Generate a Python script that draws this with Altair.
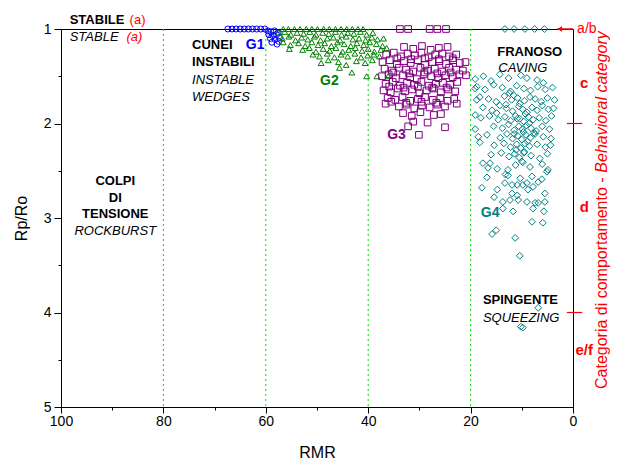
import altair as alt
import pandas as pd

FONT = "Liberation Sans"

# ---------------- data ----------------
g1_rmr = [67.4, 66.6, 65.8, 65.0, 64.2, 63.4, 62.6, 61.8, 61.0, 60.2, 59.6, 59.0,
          58.3, 57.6, 59.4, 58.6, 57.9, 57.3, 59.1, 58.2, 57.5, 58.8, 57.8]
g1_rp = [1.0, 1.0, 1.0, 1.0, 1.0, 1.0, 1.0, 1.0, 1.0, 1.0, 1.02, 1.03,
         1.02, 1.04, 1.06, 1.07, 1.06, 1.09, 1.10, 1.11, 1.13, 1.14, 1.16]

g2_rmr = [56.6, 55.6, 54.4, 53.3, 52.1, 51.0, 49.9, 48.7, 47.6, 46.4, 45.3, 44.2, 43.1, 42.0, 41.0,
          57.5, 56.3, 55.1, 53.9, 52.6, 51.4, 50.2, 48.9, 47.7, 46.4, 45.2, 44.0, 42.8, 41.5, 40.3, 39.1,
          56.8, 55.5, 54.2, 53.0, 51.8, 50.5, 49.3, 48.0, 46.8, 45.5, 44.3, 43.0, 41.8, 40.5, 39.3, 38.2, 37.0,
          56.6, 55.2, 53.6, 52.3, 51.0, 49.8, 48.5, 47.2, 46.0, 44.7, 43.4, 42.2, 40.9, 39.7, 38.4, 37.2,
          55.4, 52.8, 51.5, 50.2, 48.8, 47.5, 46.3, 45.0, 43.8, 42.5, 41.2, 40.0, 38.8, 37.5, 36.4,
          50.8, 49.5, 48.0, 46.6, 45.3, 44.0, 42.6, 41.4, 40.1, 38.9, 37.8,
          49.2, 47.8, 45.8, 44.3, 42.3, 40.6, 39.2,
          45.6, 43.2, 40.3, 38.3, 36.1]
g2_rp = [1.0] * 15 + \
        [1.04, 1.03, 1.06, 1.04, 1.05, 1.03, 1.06, 1.04, 1.05, 1.03, 1.06, 1.04, 1.05, 1.03, 1.06, 1.04] + \
        [1.10, 1.08, 1.12, 1.09, 1.11, 1.08, 1.12, 1.10, 1.09, 1.12, 1.08, 1.11, 1.10, 1.12, 1.09, 1.11, 1.10] + \
        [1.14, 1.17, 1.15, 1.18, 1.14, 1.17, 1.15, 1.18, 1.14, 1.16, 1.18, 1.15, 1.17, 1.14, 1.16, 1.18] + \
        [1.21, 1.22, 1.20, 1.24, 1.21, 1.23, 1.20, 1.24, 1.22, 1.20, 1.23, 1.21, 1.24, 1.22, 1.20] + \
        [1.27, 1.29, 1.26, 1.30, 1.27, 1.29, 1.26, 1.30, 1.28, 1.27, 1.29] + \
        [1.36, 1.33, 1.35, 1.38, 1.34, 1.36, 1.33] + \
        [1.41, 1.46, 1.50, 1.50, 1.50]

g3_rmr = [33.8, 32.2, 28.0, 26.5, 24.8,
          33.0, 31.2, 29.5, 27.8, 26.2, 24.5,
          36.5, 35.0, 33.6, 32.3, 30.9, 29.6, 28.2, 26.9, 25.5, 24.2, 22.8,
          34.3, 31.6, 28.9, 26.2, 23.5,
          37.2, 35.8, 34.4, 33.0, 31.7, 30.3, 28.9, 27.5, 26.1, 24.8, 23.4, 22.1, 21.0,
          36.8, 35.4, 34.0, 32.6, 31.2, 29.8, 28.4, 27.0, 25.6, 24.2, 22.8, 21.5,
          35.1, 32.0, 29.0, 26.5, 23.9,
          37.3, 36.0, 34.6, 33.2, 31.8, 30.5, 29.1, 27.7, 26.3, 24.9, 23.5, 22.2, 20.9,
          36.6, 35.2, 33.8, 32.4, 31.0, 29.6, 28.2, 26.8, 25.4, 24.0, 22.6,
          35.9, 33.1, 30.3, 27.5, 24.7,
          37.0, 35.6, 34.2, 32.8, 31.4, 30.0, 28.6, 27.2, 25.8, 24.4, 23.0,
          36.2, 34.7, 33.3, 31.8, 30.3, 28.9, 27.4, 25.9, 24.5, 23.2,
          35.5, 32.6, 29.6, 26.7,
          36.6, 34.0, 32.5, 31.0, 29.5, 28.0, 26.5, 25.0, 22.7,
          33.2, 31.5, 29.8, 27.2, 25.8,
          32.2, 31.2, 30.1, 28.4, 25.0]
g3_rp = [1.0] * 5 + \
        [1.19, 1.21, 1.18, 1.22, 1.20, 1.19] + \
        [1.27, 1.25, 1.29, 1.26, 1.28, 1.25, 1.30, 1.27, 1.26, 1.29, 1.27] + \
        [1.31, 1.32, 1.31, 1.32, 1.31] + \
        [1.35, 1.33, 1.37, 1.34, 1.36, 1.33, 1.38, 1.35, 1.34, 1.37, 1.33, 1.36, 1.35] + \
        [1.42, 1.44, 1.41, 1.43, 1.45, 1.41, 1.44, 1.42, 1.45, 1.41, 1.43, 1.44] + \
        [1.46, 1.47, 1.46, 1.47, 1.46] + \
        [1.50, 1.48, 1.52, 1.49, 1.51, 1.53, 1.48, 1.50, 1.52, 1.49, 1.51, 1.48, 1.49] + \
        [1.58, 1.56, 1.60, 1.57, 1.59, 1.56, 1.60, 1.58, 1.57, 1.59, 1.56] + \
        [1.61, 1.62, 1.61, 1.62, 1.62] + \
        [1.65, 1.67, 1.63, 1.66, 1.64, 1.68, 1.65, 1.63, 1.67, 1.64, 1.66] + \
        [1.73, 1.75, 1.72, 1.76, 1.74, 1.72, 1.75, 1.73, 1.76, 1.74] + \
        [1.77, 1.78, 1.77, 1.78] + \
        [1.79, 1.82, 1.80, 1.84, 1.81, 1.83, 1.80, 1.82, 1.79] + \
        [1.89, 1.92, 1.88, 1.91, 1.90] + \
        [2.03, 1.98, 2.12, 1.99, 2.04]

g4_rmr = [13.3, 11.5, 9.4, 7.5, 5.6,
          19.1, 17.5, 16.0, 14.3, 12.6, 10.2, 9.0, 7.0, 5.8,
          19.1, 18.8, 17.2, 15.5, 13.8, 12.2, 11.0, 9.6, 8.3, 6.9, 5.4, 4.0,
          18.8, 18.2, 16.5, 15.0, 13.4, 12.0, 10.8, 9.5, 8.4, 7.4, 6.2, 5.0, 3.6,
          17.6, 15.8, 14.3, 13.0, 11.8, 10.6, 9.8, 9.0, 8.0, 7.0, 6.0, 4.8, 3.8,
          19.1, 18.0, 16.3, 14.6, 13.3, 12.2, 11.2, 10.4, 9.6, 8.7, 7.8, 6.6, 5.3, 4.2,
          19.1, 15.5, 13.8, 12.6, 11.5, 10.6, 9.9, 9.1, 8.2, 7.2, 6.0, 4.6,
          18.5, 16.8, 14.2, 12.9, 11.8, 10.8, 10.0, 9.2, 8.3, 7.4, 5.8, 4.3,
          18.2, 15.4, 13.5, 12.2, 11.0, 10.2, 9.4, 8.5, 7.0, 5.4, 4.4,
          16.0, 14.0, 12.5, 11.4, 10.5, 9.6, 8.2, 6.5, 5.0,
          17.6, 16.2, 16.6, 14.8, 12.7, 11.2, 9.8, 8.4, 6.0, 5.1, 4.9,
          16.8, 13.2, 12.7, 10.3, 8.0, 6.1,
          17.8, 14.8, 13.3, 11.9, 10.9, 9.8, 9.0, 8.8, 7.8, 6.8,
          15.4, 11.9, 10.9, 10.7, 12.3, 13.7, 9.0, 6.8, 5.5, 5.5, 7.4,
          13.7, 11.7, 7.8, 5.7, 8.0, 5.9,
          15.8, 15.0, 11.3, 10.4,
          6.8, 10.2, 9.8,
          11.6, 10.4, 9.3, 8.6, 7.6,
          10.9, 9.7, 8.9, 11.1, 10.0,
          12.4, 13.1, 14.9, 11.5, 9.5]
g4_rp = [1.0] * 5 + \
        [1.53, 1.50, 1.55, 1.48, 1.52, 1.49, 1.52, 1.54, 1.57] + \
        [1.63, 1.61, 1.64, 1.59, 1.62, 1.66, 1.60, 1.63, 1.65, 1.61, 1.64, 1.62] + \
        [1.75, 1.72, 1.74, 1.77, 1.71, 1.75, 1.73, 1.76, 1.72, 1.74, 1.77, 1.73, 1.75] + \
        [1.83, 1.86, 1.81, 1.84, 1.87, 1.82, 1.85, 1.88, 1.83, 1.86, 1.81, 1.85, 1.84] + \
        [1.91, 1.94, 1.92, 1.96, 1.93, 1.97, 1.92, 1.95, 1.98, 1.93, 1.96, 1.94, 1.97, 1.92] + \
        [2.06, 2.03, 2.05, 2.01, 2.07, 2.03, 2.06, 2.02, 2.05, 2.08, 2.03, 2.06] + \
        [2.14, 2.12, 2.15, 2.11, 2.16, 2.13, 2.17, 2.12, 2.15, 2.11, 2.14, 2.16] + \
        [2.20, 2.23, 2.21, 2.25, 2.22, 2.26, 2.21, 2.24, 2.22, 2.25, 2.23] + \
        [2.33, 2.31, 2.35, 2.32, 2.36, 2.31, 2.34, 2.37, 2.32] + \
        [2.42, 2.42, 2.47, 2.48, 2.49, 2.44, 2.41, 2.46, 2.43, 2.51, 2.49] + \
        [2.57, 2.54, 2.55, 2.58, 2.56, 2.59] + \
        [2.68, 2.70, 2.63, 2.65, 2.65, 2.65, 2.63, 2.70, 2.67, 2.62] + \
        [2.78, 2.74, 2.76, 2.81, 2.81, 2.83, 2.83, 2.84, 2.74, 2.83, 2.84] + \
        [2.90, 2.93, 2.90, 2.93, 3.04, 3.05] + \
        [3.17, 3.13, 3.21, 3.40] + \
        [3.95, 4.15, 4.16] + \
        [1.70, 1.79, 1.90, 2.00, 2.10] + \
        [1.95, 2.09, 2.19, 2.28, 2.40] + \
        [1.68, 1.80, 1.89, 2.11, 2.30]

zone_lines = [80, 60, 40, 20]
category_ticks = [2, 4]
category_labels = ["c", "d", "e/f"]
category_label_pos = [1.57, 2.88, 4.40]

# annotations (text, RMR, Rp)
bold_left = [("STABILE", 98.3, 0.905), ("CUNEI", 74.4, 1.17), ("INSTABILI", 74.4, 1.35),
             ("FRANOSO", 14.8, 1.245), ("SPINGENTE", 17.6, 3.87)]
italic_left = [("STABLE", 98.3, 1.085), ("INSTABLE", 74.4, 1.54), ("WEDGES", 74.4, 1.72),
               ("CAVING", 14.6, 1.415), ("SQUEEZING", 17.6, 4.06)]
bold_center = [("COLPI", 89.4, 2.61), ("DI", 89.4, 2.79), ("TENSIONE", 89.4, 2.96)]
italic_center = [("ROCKBURST", 89.4, 3.14)]
red_a = [("(a)", 86.6, 0.905)]
red_a_italic = [("(a)", 87.2, 1.085)]
group_labels = [("G1", 63.9, 1.17, "#0000FF"), ("G2", 49.4, 1.55, "#008000"),
                ("G3", 36.3, 2.12, "#800080"), ("G4", 18.0, 2.95, "#008080")]
right_title_regular = "Categoria di comportamento -"
right_title_italic = "Behavioral category"

# ---------------- scales / axes ----------------
x_scale = alt.Scale(domain=[0, 100], reverse=True, nice=False, zero=False)
y_scale = alt.Scale(domain=[1, 5], reverse=True, nice=False, zero=False)

x_axis = alt.Axis(
    values=list(range(0, 101, 10)),
    labelExpr="datum.value % 20 === 0 ? format(datum.value, 'd') : ''",
    tickSize={"condition": {"test": "datum.value % 20 === 0", "value": 6}, "value": 3},
    grid=False, title="RMR", labelPadding=1, titlePadding=16, labelFlush=False,
)
y_axis = alt.Axis(
    values=[1, 1.5, 2, 2.5, 3, 3.5, 4, 4.5, 5],
    labelExpr="datum.value % 1 === 0 ? format(datum.value, 'd') : ''",
    tickSize={"condition": {"test": "datum.value % 1 === 0", "value": 7}, "value": 3},
    grid=False, title="Rp/Ro", labelPadding=3, titlePadding=14, labelFlush=False,
)


def X(field):
    return alt.X(f"{field}:Q", scale=x_scale, axis=x_axis)


def Y(field):
    return alt.Y(f"{field}:Q", scale=y_scale, axis=y_axis)


def pts(rmr, rp):
    assert len(rmr) == len(rp), (len(rmr), len(rp))
    return pd.DataFrame({"RMR": rmr, "Rp": rp})


layers = []

# dotted zone lines
layers.append(
    alt.Chart(pd.DataFrame({"RMR": zone_lines}))
    .mark_rule(color="#00E000", strokeDash=[2, 3], strokeWidth=1)
    .encode(x=X("RMR"))
)

# scatter groups
for rmr, rp, shape, col, size in [
    (g1_rmr, g1_rp, "circle", "#0000FF", 36),
    (g2_rmr, g2_rp, "triangle-up", "#008000", 34),
    (g3_rmr, g3_rp, "square", "#800080", 44),
    (g4_rmr, g4_rp, "diamond", "#008080", 46),
]:
    layers.append(
        alt.Chart(pts(rmr, rp))
        .mark_point(shape=shape, filled=False, color=col, size=size, strokeWidth=1, opacity=1)
        .encode(x=X("RMR"), y=Y("Rp"))
    )


def text_layer(items, **kw):
    df = pd.DataFrame(items, columns=["t", "RMR", "Rp"])
    return alt.Chart(df).mark_text(font=FONT, baseline="middle", **kw).encode(
        x=X("RMR"), y=Y("Rp"), text="t:N")


layers.append(text_layer(bold_left, align="left", fontWeight="bold", fontSize=13, color="black"))
layers.append(text_layer(italic_left, align="left", fontStyle="italic", fontSize=13, color="black"))
layers.append(text_layer(bold_center, align="center", fontWeight="bold", fontSize=13, color="black"))
layers.append(text_layer(italic_center, align="center", fontStyle="italic", fontSize=13, color="black"))
layers.append(text_layer(red_a, align="left", fontSize=13, color="#FF0000"))
layers.append(text_layer(red_a_italic, align="left", fontStyle="italic", fontSize=13, color="#FF0000"))

gdf = pd.DataFrame(group_labels, columns=["t", "RMR", "Rp", "c"])
layers.append(
    alt.Chart(gdf).mark_text(font=FONT, baseline="middle", align="left", fontWeight="bold", fontSize=14)
    .encode(x=X("RMR"), y=Y("Rp"), text="t:N", color=alt.Color("c:N", scale=None))
)

# right-hand behavioural category axis (red)
tick_df = pd.DataFrame({"x1": [1.2] * len(category_ticks), "x2": [-1.8] * len(category_ticks),
                        "Rp": category_ticks})
layers.append(
    alt.Chart(tick_df).mark_rule(color="#FF0000", strokeWidth=1.2)
    .encode(x=X("x1"), x2="x2:Q", y=Y("Rp"))
)
arrow_df = pd.DataFrame({"x1": [3.0], "x2": [0.0], "Rp": [1.0]})
layers.append(
    alt.Chart(arrow_df).mark_rule(color="#FF0000", strokeWidth=1.5)
    .encode(x=X("x1"), x2="x2:Q", y=Y("Rp"))
)
layers.append(
    alt.Chart(pd.DataFrame({"RMR": [2.6], "Rp": [1.0]}))
    .mark_point(shape="triangle-left", filled=True, color="#FF0000", size=30, opacity=1)
    .encode(x=X("RMR"), y=Y("Rp"))
)
layers.append(text_layer([("a/b", -0.8, 1.0)], align="left", fontSize=14, color="#FF0000"))
cat_df = [(t, -2.2, p) for t, p in zip(category_labels, category_label_pos)]
layers.append(text_layer(cat_df, align="center", fontWeight="bold", fontSize=15, color="#FF0000"))

title_a = pd.DataFrame({"t": [right_title_regular], "RMR": [-5.75], "Rp": [2.57]})
title_b = pd.DataFrame({"t": [right_title_italic], "RMR": [-5.75], "Rp": [2.52]})
layers.append(
    alt.Chart(title_a).mark_text(font=FONT, fontSize=16, color="#FF0000", angle=270,
                                 align="right", baseline="middle")
    .encode(x=X("RMR"), y=Y("Rp"), text="t:N")
)
layers.append(
    alt.Chart(title_b).mark_text(font=FONT, fontSize=16, color="#FF0000", angle=270,
                                 align="left", baseline="middle", fontStyle="italic")
    .encode(x=X("RMR"), y=Y("Rp"), text="t:N")
)

chart = (
    alt.layer(*layers)
    .properties(
        width=512, height=378,
        autosize=alt.AutoSizeParams(type="none"),
        padding={"left": 53, "top": 21, "right": 37, "bottom": 57},
        background="white",
    )
    .configure_view(stroke="black", strokeWidth=1)
    .configure_axis(
        labelFont=FONT, titleFont=FONT, labelFontSize=14, titleFontSize=16,
        labelColor="black", titleColor="black", domainColor="black", tickColor="black",
        titleFontWeight="normal", domainWidth=1, tickWidth=1,
    )
)

chart.save("out.html", embed_options={"renderer": "svg", "actions": False})
